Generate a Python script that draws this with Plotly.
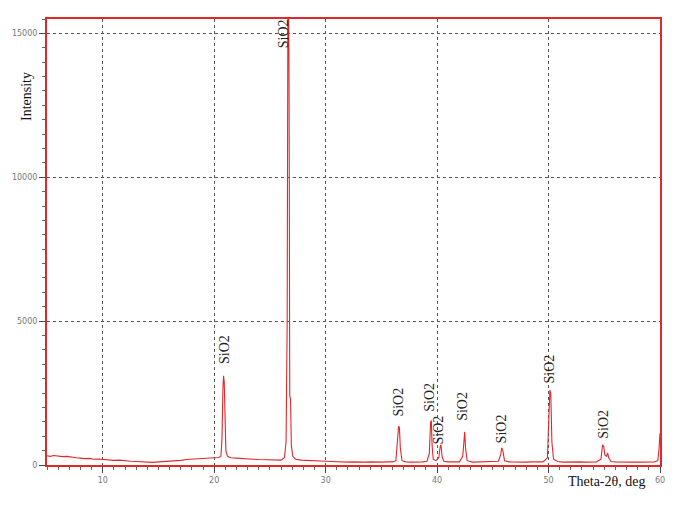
import plotly.graph_objects as go

# diffractogram (2theta in deg, counts)
two_theta = [
    5.0, 5.3, 5.6, 6.0, 6.4, 6.8, 7.2, 7.6, 8.0, 8.4, 8.8, 9.2, 9.6, 10.0,
    10.5, 11.0, 11.5, 12.0, 12.5, 13.0, 13.5, 14.0, 14.5, 15.0, 15.5, 16.0,
    16.5, 17.0, 17.5, 18.0, 18.5, 19.0, 19.5, 20.0, 20.4, 20.6,
    20.7, 20.78, 20.84, 20.9, 20.96, 21.05, 21.2, 21.5, 22.0, 22.5, 23.0,
    23.5, 24.0, 24.5, 25.0, 25.5, 26.0, 26.3,
    26.45, 26.55, 26.62, 26.68, 26.72, 26.78, 26.85, 26.92, 27.05, 27.3,
    27.8, 28.5, 29.0, 29.5, 30.0, 30.5, 31.0, 31.5, 32.0, 32.5, 33.0, 33.5,
    34.0, 34.5, 35.0, 35.5, 36.0, 36.3,
    36.45, 36.55, 36.62, 36.7, 36.85, 37.2, 37.7, 38.2, 38.7, 39.1, 39.3,
    39.42, 39.48, 39.55, 39.65, 39.9, 40.15, 40.28, 40.35, 40.45, 40.6,
    41.0, 41.5, 42.0, 42.3, 42.42, 42.48, 42.55, 42.7, 43.2, 43.8, 44.4,
    45.0, 45.5, 45.7, 45.8, 45.9, 46.05, 46.5, 47.0, 47.5, 48.0, 48.5,
    49.0, 49.5, 49.9, 50.05, 50.12, 50.2, 50.3, 50.45, 50.8, 51.3, 51.8,
    52.3, 52.8, 53.3, 53.8, 54.3, 54.7, 54.85, 54.95, 55.05, 55.2, 55.3,
    55.4, 55.6, 56.0, 56.5, 57.0, 57.5, 58.0, 58.5, 59.0, 59.5, 59.8,
    59.9, 60.0,
]
intensity = [
    320, 300, 330, 310, 290, 300, 270, 250, 240, 220, 230, 200, 210, 190,
    180, 160, 170, 140, 130, 120, 110, 100, 90, 110, 120, 130,
    150, 160, 190, 200, 220, 230, 240, 250, 260, 300,
    900, 2600, 3100, 2900, 1500, 500, 300, 250, 240, 220, 210,
    200, 190, 180, 170, 160, 170, 250,
    800, 5000, 17000, 16000, 13000, 2400, 2300, 700, 300, 200,
    170, 150, 140, 130, 130, 120, 110, 120, 100, 110, 100, 100,
    110, 100, 100, 110, 110, 150,
    800, 1350, 1300, 600, 150, 110, 100, 100, 110, 130, 400,
    1500, 1550, 700, 200, 150, 250, 650, 700, 300, 130,
    110, 100, 110, 300, 1100, 1150, 600, 150, 100, 110, 100,
    110, 130, 350, 600, 500, 150, 110, 100, 110, 100, 110,
    100, 110, 250, 1600, 2600, 2500, 800, 200, 120, 100, 110,
    100, 110, 100, 100, 110, 200, 700, 650, 350, 300, 420,
    250, 120, 110, 100, 110, 100, 100, 110, 100, 110, 150,
    500, 1100,
]

# phase labels
label_text = ["SiO2"] * 9
label_x = [20.97, 26.17, 36.58, 39.36, 40.17, 42.33, 45.8, 50.1, 54.98]
label_y = [3460, 14430, 1630, 1800, 660, 1450, 690, 2770, 830]

red = "#e0282c"
serif = "Liberation Serif, Times New Roman, serif"

W, H = 697, 505
L, R, T, B = 47, 37, 19, 40


def px_to_paper(x, y):
    return (x - L) / (W - L - R), (H - B - y) / (H - T - B)


fig = go.Figure()
fig.add_trace(go.Scatter(
    x=two_theta, y=intensity, mode="lines",
    line=dict(color=red, width=1.1), hoverinfo="skip"
))

annotations = []
for t, x, y in zip(label_text, label_x, label_y):
    annotations.append(dict(
        x=x, y=y, xref="x", yref="y", text=t, showarrow=False,
        textangle=-90, xanchor="center", yanchor="bottom",
        font=dict(family=serif, size=14, color="#222")
    ))

ix, iy = px_to_paper(27, 97)
annotations.append(dict(
    x=ix, y=iy, xref="paper", yref="paper", text="Intensity", showarrow=False,
    textangle=-90, xanchor="center", yanchor="middle",
    font=dict(family=serif, size=14, color="#111")
))
tx, ty = px_to_paper(606, 481)
annotations.append(dict(
    x=tx, y=ty, xref="paper", yref="paper", text="Theta-2θ, deg",
    showarrow=False, xanchor="center", yanchor="middle",
    font=dict(family=serif, size=14, color="#111")
))

axis_common = dict(
    showgrid=True, gridcolor="#555", griddash="dot", gridwidth=1,
    showline=True, linecolor=red, linewidth=2, mirror=True,
    ticks="outside", ticklen=6, tickcolor="#444",
    tickfont=dict(family="DejaVu Sans", size=8, color="#777"),
    zeroline=False,
)

fig.update_layout(
    width=W, height=H,
    margin=dict(l=L, r=R, t=T, b=B),
    paper_bgcolor="white", plot_bgcolor="white",
    showlegend=False,
    annotations=annotations,
    xaxis=dict(
        range=[5, 60], dtick=10, tick0=0,
        minor=dict(dtick=1, ticks="outside", ticklen=3, tickcolor="#666", showgrid=False),
        **axis_common,
    ),
    yaxis=dict(
        range=[0, 15500], dtick=5000, tick0=0, tickformat="d",
        minor=dict(dtick=500, ticks="outside", ticklen=3, tickcolor="#666", showgrid=False),
        **axis_common,
    ),
)

fig.write_html(
    "out.html",
    config={"displayModeBar": False},
    post_script="document.body.style.margin='0';",
)
